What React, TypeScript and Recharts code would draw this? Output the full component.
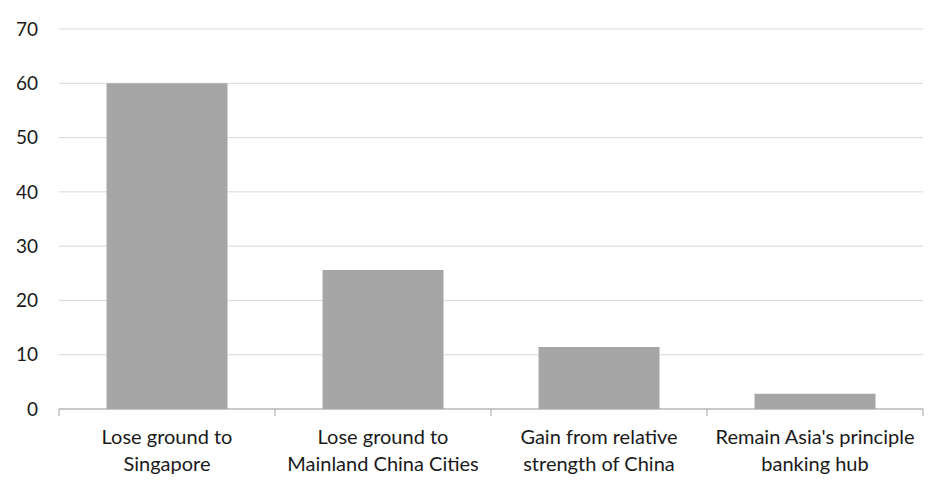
import React from 'react';
import { BarChart, Bar, XAxis, YAxis, CartesianGrid } from 'recharts';

const CATEGORIES = [
  'Lose ground to\nSingapore',
  'Lose ground to\nMainland China Cities',
  'Gain from relative\nstrength of China',
  "Remain Asia's principle\nbanking hub",
];
const VALUES = [60, 25.6, 11.4, 2.8];
const Y_TICKS = [0, 10, 20, 30, 40, 50, 60, 70];

const data = CATEGORIES.map((name, i) => ({ name, value: VALUES[i] }));

const FONT = 'Lato, "Open Sans", sans-serif';

const CategoryTick = (props: any) => {
  const { x, y, payload, index } = props;
  const half = payload && payload.offset ? payload.offset : 108;
  const lines = String(payload.value).split('\n');
  return (
    <g>
      <line x1={x - half} x2={x - half} y1={y - 8} y2={y - 1} stroke="#a6a6a6" />
      {index === CATEGORIES.length - 1 && (
        <line x1={x + half} x2={x + half} y1={y - 8} y2={y - 1} stroke="#a6a6a6" />
      )}
      <text x={x} y={y} textAnchor="middle" fill="#1a1a1a" fontSize={20} fontFamily={FONT}>
        {lines.map((l, i) => (
          <tspan key={i} x={x} dy={i === 0 ? 27 : 26.5}>
            {l}
          </tspan>
        ))}
      </text>
    </g>
  );
};

export default function App() {
  return (
    <div style={{ position: 'absolute', left: 0, top: 0, width: 952, height: 491, background: '#fff' }}>
      <BarChart
        width={952}
        height={491}
        data={data}
        margin={{ top: 29, right: 29, left: 0, bottom: 0 }}
        barCategoryGap="22%"
      >
        <CartesianGrid vertical={false} stroke="#d9d9d9" />
        <XAxis
          dataKey="name"
          interval={0}
          axisLine={{ stroke: '#a6a6a6' }}
          tickLine={false}
          tick={<CategoryTick />}
          height={82}
        />
        <YAxis
          width={59}
          domain={[0, 70]}
          ticks={Y_TICKS}
          axisLine={false}
          tickLine={false}
          tickMargin={15}
          tick={{ fill: '#1a1a1a', fontSize: 19, fontFamily: FONT }}
        />
        <Bar dataKey="value" fill="#a6a6a6" isAnimationActive={false} />
      </BarChart>
    </div>
  );
}
